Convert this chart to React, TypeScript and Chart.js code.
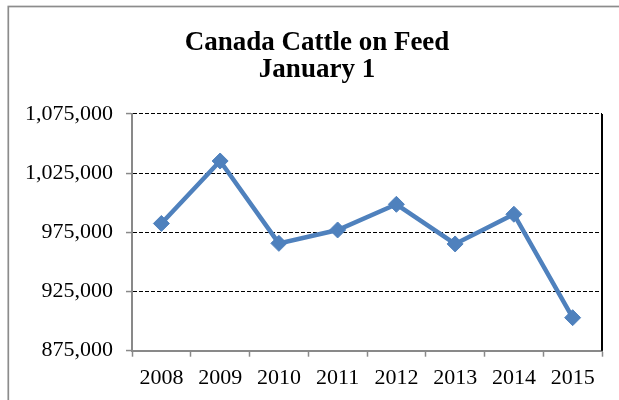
import { useEffect, useRef } from 'react';
import { Chart, registerables } from 'chart.js';

Chart.register(...registerables);

// Cattle on feed in Canada, head count on January 1 of each year
const years = ['2008', '2009', '2010', '2011', '2012', '2013', '2014', '2015'];
const cattleOnFeed = [982500, 1035300, 965700, 977000, 998700, 965200, 990300, 902900];

const titleLines = ['Canada Cattle on Feed', 'January 1'];
const yMin = 875000;
const yMax = 1075000;
const yStep = 50000;

const SERIF = '"Liberation Serif", "Times New Roman", Times, serif';
const AXIS_GRAY = '#898989';
const LINE_BLUE = '#4F81BD';

// Light gray frame around the whole chart object
const framePlugin = {
  id: 'frame',
  beforeDraw(chart: Chart) {
    const { ctx } = chart;
    ctx.save();
    ctx.strokeStyle = '#8c8c8c';
    ctx.lineWidth = 1.7;
    ctx.strokeRect(8.3, 6.5, chart.width + 50, chart.height + 50);
    ctx.restore();
  },
};

// Centre the two-line title over the frame rather than the full canvas
const titleCenterPlugin = {
  id: 'titleCenter',
  afterLayout(chart: Chart) {
    const block = (chart as any).titleBlock;
    if (block) {
      block.left = 32;
      block.right = chart.chartArea.right;
    }
  },
};

// Solid black edge on the right side of the plot area
const plotEdgePlugin = {
  id: 'plotEdge',
  beforeDatasetsDraw(chart: Chart) {
    const { ctx, chartArea } = chart;
    ctx.save();
    ctx.strokeStyle = '#000';
    ctx.lineWidth = 2;
    ctx.beginPath();
    ctx.moveTo(chartArea.right, chartArea.top);
    ctx.lineTo(chartArea.right, chartArea.bottom);
    ctx.stroke();
    ctx.restore();
  },
};

export default function App() {
  const canvasRef = useRef<HTMLCanvasElement | null>(null);

  useEffect(() => {
    const canvas = canvasRef.current;
    if (!canvas) return;

    const chart = new Chart(canvas, {
      type: 'line',
      data: {
        labels: years,
        datasets: [
          {
            data: cattleOnFeed,
            borderColor: LINE_BLUE,
            backgroundColor: LINE_BLUE,
            borderWidth: 4.5,
            tension: 0,
            pointStyle: 'rectRot',
            pointRadius: 8,
            pointHoverRadius: 8,
            pointBackgroundColor: LINE_BLUE,
            pointBorderColor: LINE_BLUE,
            pointBorderWidth: 1,
          },
        ],
      },
      options: {
        responsive: false,
        animation: false,
        devicePixelRatio: 1,
        layout: {
          padding: { top: 0, left: 0, right: 17, bottom: 0 },
        },
        plugins: {
          legend: { display: false },
          tooltip: { enabled: false },
          title: {
            display: true,
            text: titleLines,
            color: '#000',
            font: { family: SERIF, size: 27, weight: 'bold', lineHeight: 1.0 },
            padding: { top: 29.5, bottom: 30.5 },
          },
        },
        scales: {
          x: {
            type: 'category',
            offset: true,
            afterFit(scale: any) {
              scale.height = 49.3;
            },
            grid: {
              display: true,
              drawOnChartArea: false,
              drawTicks: true,
              offset: true,
              tickLength: 6,
              tickColor: AXIS_GRAY,
              tickWidth: 1.5,
              color: AXIS_GRAY,
            },
            border: { display: true, color: AXIS_GRAY, width: 2 },
            ticks: {
              color: '#000',
              padding: 8,
              maxRotation: 0,
              autoSkip: false,
              font: { family: SERIF, size: 22 },
            },
          },
          y: {
            min: yMin,
            max: yMax,
            afterFit(scale: any) {
              scale.width = 132;
            },
            grid: {
              display: true,
              drawTicks: true,
              tickLength: 6,
              tickColor: AXIS_GRAY,
              tickWidth: 1.5,
              tickBorderDash: [],
              lineWidth: 1.1,
              color: (ctx: any) =>
                ctx.tick && ctx.tick.value === yMin ? 'rgba(0,0,0,0)' : '#000',
            },
            border: { display: true, color: AXIS_GRAY, width: 2, dash: [4, 2] },
            ticks: {
              stepSize: yStep,
              color: '#000',
              padding: 13,
              font: { family: SERIF, size: 22 },
              callback: (value: any) => Number(value).toLocaleString('en-US'),
            },
          },
        },
      },
      plugins: [framePlugin, titleCenterPlugin, plotEdgePlugin],
    });

    return () => chart.destroy();
  }, []);

  return (
    <div style={{ position: 'fixed', left: 0, top: 0, width: 619, height: 400, background: '#fff' }}>
      <canvas ref={canvasRef} width={619} height={400} style={{ display: 'block' }} />
    </div>
  );
}
